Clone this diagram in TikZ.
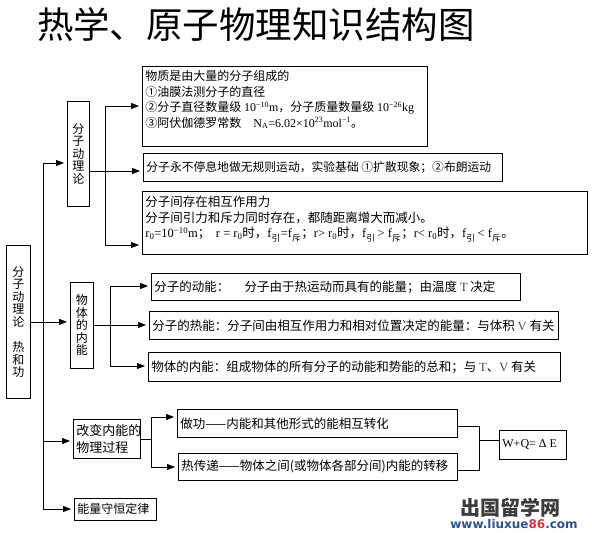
\documentclass[tikz,border=0pt]{standalone}
\usepackage{fontspec}
\setmainfont{Noto Sans CJK SC}
\newfontfamily\lat{Liberation Serif}
\newfontfamily\wmfont{DejaVu Sans}
\usetikzlibrary{arrows.meta}
\definecolor{wmblue}{RGB}{45,80,150}
\definecolor{wmred}{RGB}{210,55,55}
\definecolor{wmgray}{RGB}{60,60,60}
\newcommand\bxt[4][c]{\parbox[c][#3][#1]{#2}{\raggedright\leftskip=3pt\relax #4}}
\newcommand\vtx[3]{\parbox[c][#2][c]{#1}{\centering #3}}
\newcommand\fy{{\lat f}\textsubscript{引}}
\newcommand\fc{{\lat f}\textsubscript{斥}}
\begin{document}
\begin{tikzpicture}[x=1pt,y=-1pt,
  box/.style={draw, line width=0.8pt, inner sep=0pt, anchor=north west,
              font=\fontsize{12.5}{15.5}\selectfont},
  vbox/.style={box, font=\fontsize{12}{12.5}\selectfont},
  con/.style={line width=0.8pt},
  arr/.style={line width=0.8pt, -{Triangle[length=8pt,width=6pt]}, shorten >=3pt},
  wm/.style={inner sep=0pt}]
\useasboundingbox (0,0) rectangle (592,533);
\fill[white] (0,0) rectangle (592,533);

\node[font=\fontsize{36.5}{36.5}\selectfont, inner sep=0pt] (title) at (256,25) {热学、原子物理知识结构图};

% boxes
\node[vbox] (A) at (6,245) {\vtx{24pt}{153pt}{分\\子\\动\\理\\论\\[13pt]热\\和\\功}};
\node[vbox] (B) at (67,101) {\vtx{22pt}{105pt}{分\\子\\动\\理\\论}};
\node[box, font=\fontsize{12}{15.5}\selectfont] (C1) at (142,66) {\bxt[t]{285pt}{80pt}{\vspace*{4pt}物质是由大量的分子组成的\\
①油膜法测分子的直径\\
②分子直径数量级 {\lat 10\textsuperscript{−10}m}，分子质量数量级 {\lat 10\textsuperscript{−26}kg}\\
③阿伏伽德罗常数\quad{\lat N\textsubscript{A}=6.02×10\textsuperscript{23}mol\textsuperscript{−1}}。}};
\node[box, font=\fontsize{11.8}{14}\selectfont] (C2) at (143,153) {\bxt{359pt}{28pt}{\mbox{分子永不停息地做无规则运动，实验基础 ①扩散现象；②布朗运动}}};
\node[box] (C3) at (142,191) {\bxt[t]{445pt}{63pt}{\vspace*{5pt}分子间存在相互作用力\\
分子间引力和斥力同时存在，都随距离增大而减小。\\
{\lat r\textsubscript{0}=10\textsuperscript{−10}m}；\ \ {\lat r = r\textsubscript{0}}时，\fy{\lat =}\fc；{\lat r> r\textsubscript{0}}时，\fy{\lat \,> }\fc；{\lat r< r\textsubscript{0}}时，\fy{\lat \,< }\fc。}};

\node[vbox] (D) at (70,282) {\vtx{23pt}{86pt}{物\\体\\的\\内\\能}};
\node[box] (E1) at (151,273) {\bxt{369pt}{27pt}{分子的动能：\quad\ 分子由于热运动而具有的能量；由温度 {\lat\color{black!70}T} 决定}};
\node[box] (E2) at (149,311) {\bxt{409pt}{28pt}{分子的热能：分子间由相互作用力和相对位置决定的能量：与体积 {\lat\color{black!70}V} 有关}};
\node[box] (E3) at (148,352) {\bxt{412pt}{29pt}{物体的内能：组成物体的所有分子的动能和势能的总和；与 {\lat\color{black!70}T}、{\lat\color{black!70}V} 有关}};

\node[box, font=\fontsize{13}{17}\selectfont] (F) at (73,419) {\bxt{67pt}{39pt}{改变内能的\\物理过程}};
\node[box] (G1) at (177,409) {\bxt{280pt}{28pt}{做功——内能和其他形式的能相互转化}};
\node[box] (G2) at (178,453) {\bxt{279pt}{27pt}{热传递——物体之间(或物体各部分间)内能的转移}};
\node[box, font=\lat\fontsize{12}{14}\selectfont] (H) at (499,430) {\bxt{67pt}{29pt}{W+Q= Δ E}};
\node[box, font=\fontsize{12}{14}\selectfont] (I) at (74,498) {\bxt{82pt}{22pt}{能量守恒定律}};

% main spine
\coordinate (s0) at (43,163);
\coordinate (s1) at (43,509);
\coordinate (s2) at (43,441);
\draw[con] (s0) -- (s1);
\draw[arr] (s0) -- (s0 -| B.west);
\draw[arr] (A.east) -- (A.east -| D.west);
\draw[arr] (s2) -- (s2 -| F.west);
\draw[arr] (s1) -- (s1 -| I.west);

% molecular theory branches
\coordinate (b0) at (105,171);
\coordinate (bt) at (105,106);
\coordinate (bb) at (105,245);
\draw[con] (B.east |- b0) -- (b0);
\draw[con] (bt) -- (bb);
\draw[arr] (bt) -- (bt -| C1.west);
\draw[arr] (b0) -- (b0 -| C2.west);
\draw[arr] (bb) -- (bb -| C3.west);

% internal energy branches
\coordinate (d0) at (110,325);
\coordinate (dt) at (110,286);
\coordinate (db) at (110,366);
\draw[con] (D.east |- d0) -- (d0);
\draw[con] (dt) -- (db);
\draw[arr] (dt) -- (dt -| E1.west);
\draw[arr] (d0) -- (d0 -| E2.west);
\draw[arr] (db) -- (db -| E3.west);

% process branches
\coordinate (f0) at (151,439);
\coordinate (ft) at (151,417);
\coordinate (fb) at (151,467);
\draw[con] (F.east |- f0) -- (f0);
\draw[con] (ft) -- (fb);
\draw[arr] (ft) -- (ft -| G1.west);
\draw[arr] (fb) -- (fb -| G2.west);

\coordinate (gt) at (479,426);
\coordinate (gb) at (479,470);
\coordinate (gm) at (479,440);
\draw[con] (G1.east |- gt) -- (gt) -- (gb) -- (G2.east |- gb);
\draw[con] (gm) -- (gm -| H.west);

% watermark
\node[wm, font=\bfseries\fontsize{20}{20}\selectfont, text=wmgray] (wm1) at (510,508) {出国留学网};
\node[wm, font=\wmfont\bfseries\fontsize{12}{12}\selectfont, text=wmblue] (wm2) at (514,524.5) {www.liuxue{\color{wmred}86}.com};
\end{tikzpicture}
\end{document}
